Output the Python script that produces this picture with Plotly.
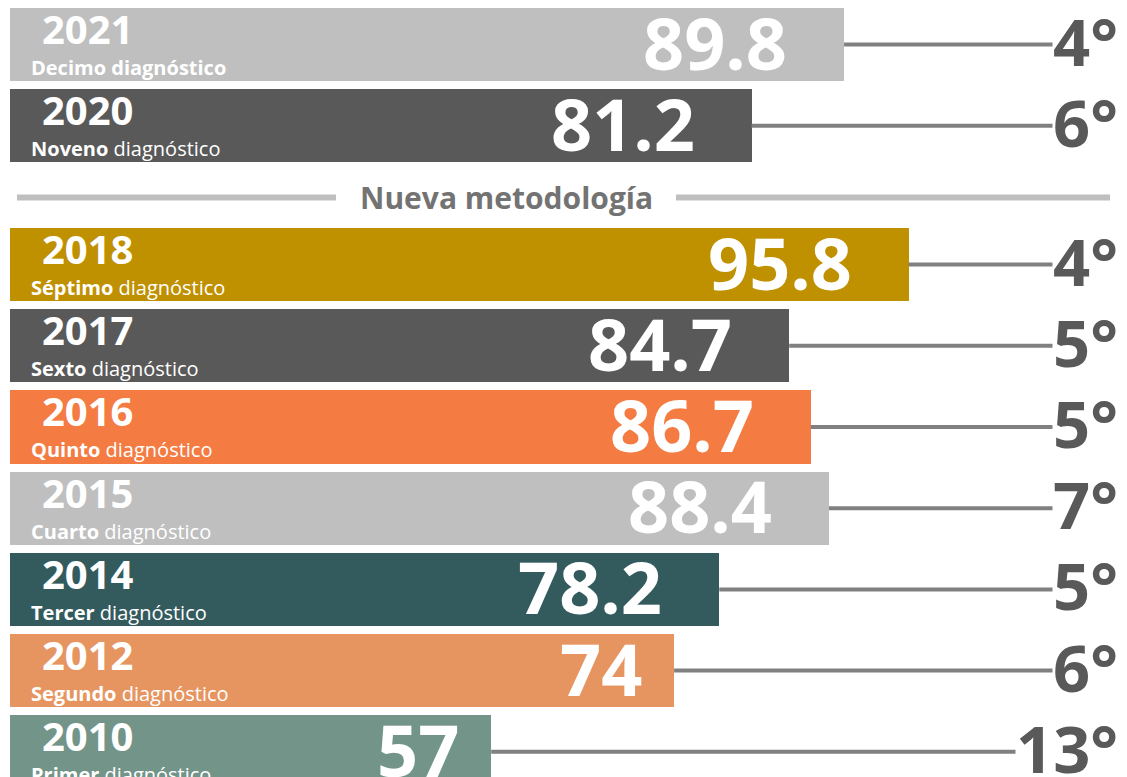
import plotly.graph_objects as go

# ---- data (top to bottom) ----
years = ["2021", "2020", "2018", "2017", "2016", "2015", "2014", "2012", "2010"]
ordinals = ["Decimo", "Noveno", "Séptimo", "Sexto", "Quinto", "Cuarto", "Tercer", "Segundo", "Primer"]
values = [89.8, 81.2, 95.8, 84.7, 86.7, 88.4, 78.2, 74, 57]
ranks = [4, 6, 4, 5, 5, 7, 5, 6, 13]
new_method_count = 2  # first two rows use the new methodology
divider_label = "Nueva metodología"

# ---- style ----
bar_colors = ["#bfbfbf", "#595959", "#bf9000", "#595959", "#f47b42",
              "#bfbfbf", "#335b5e", "#e69560", "#739488"]
FONT = "Open Sans"
W, H = 1127, 777
ML = 10
PW = W - ML
gap = 1.71  # vertical gap (in row units) for divider
x_range = [12.27, 116.1]
y_range = [9.02, -0.548]

ys = [i if i < new_method_count else i + gap - 1 for i in range(len(years))]

fig = go.Figure()
fig.add_trace(go.Bar(
    x=values, y=ys, orientation="h", width=0.9,
    marker=dict(color=bar_colors, line=dict(width=0)),
    hoverinfo="skip", showlegend=False,
))

line_end = 109.5
for v, y in zip(values, ys):
    fig.add_trace(go.Scatter(
        x=[v, line_end], y=[y, y], mode="lines",
        line=dict(color="#808080", width=4),
        hoverinfo="skip", showlegend=False, cliponaxis=False,
    ))

ann = []
for yr, o, v, r, y in zip(years, ordinals, values, ranks, ys):
    ann.append(dict(x=0, xref="paper", y=y, yref="y", text=f"<b>{yr}</b>",
                    xanchor="left", yanchor="middle", xshift=30, yshift=16,
                    showarrow=False, font=dict(family=FONT, size=40, color="white")))
    sub = f"<b>{o} diagnóstico</b>" if o == "Decimo" else f"<b>{o}</b> diagnóstico"
    ann.append(dict(x=0, xref="paper", y=y, yref="y", text=sub,
                    xanchor="left", yanchor="middle", xshift=19, yshift=-23,
                    showarrow=False, font=dict(family=FONT, size=20, color="white")))
    label = f"{v:g}"
    ann.append(dict(x=v, xref="x", y=y, yref="y", text=f"<b>{label}</b>",
                    xanchor="right", yanchor="middle",
                    xshift=-55 if len(label) > 2 else -30, yshift=3,
                    showarrow=False, font=dict(family=FONT, size=72, color="white")))
    ann.append(dict(x=1, xref="paper", y=y, yref="y", text=f"<b>{r}°</b>",
                    xanchor="right", yanchor="middle", xshift=-8, yshift=4,
                    showarrow=False, bgcolor="white", borderpad=0,
                    font=dict(family=FONT, size=65, color="#595959")))

div_y = (ys[new_method_count - 1] + ys[new_method_count]) / 2 + 0.03
ann.append(dict(x=(506 - ML) / PW, xref="paper", y=div_y, yref="y",
                text=f"<b>{divider_label}</b>", xanchor="center", yanchor="middle",
                showarrow=False, font=dict(family=FONT, size=30, color="#737373")))

shapes = [
    dict(type="line", xref="paper", yref="y", x0=(17 - ML) / PW, x1=(1110 - ML) / PW,
         y0=div_y, y1=div_y, line=dict(color="#bfbfbf", width=6), layer="below"),
    dict(type="rect", xref="paper", yref="y", x0=(336 - ML) / PW, x1=(676 - ML) / PW,
         y0=div_y - 0.33, y1=ys[new_method_count] - 0.45,
         fillcolor="white", line=dict(width=0), layer="below"),
]

fig.update_layout(
    width=W, height=H,
    margin=dict(l=ML, r=0, t=0, b=0),
    paper_bgcolor="white", plot_bgcolor="white",
    xaxis=dict(range=x_range, visible=False, fixedrange=True),
    yaxis=dict(range=y_range, visible=False, fixedrange=True),
    annotations=ann, shapes=shapes,
    bargap=0, showlegend=False,
)

fig.write_html("out.html", config={"displayModeBar": False},
               post_script="document.body.style.margin='0';")
